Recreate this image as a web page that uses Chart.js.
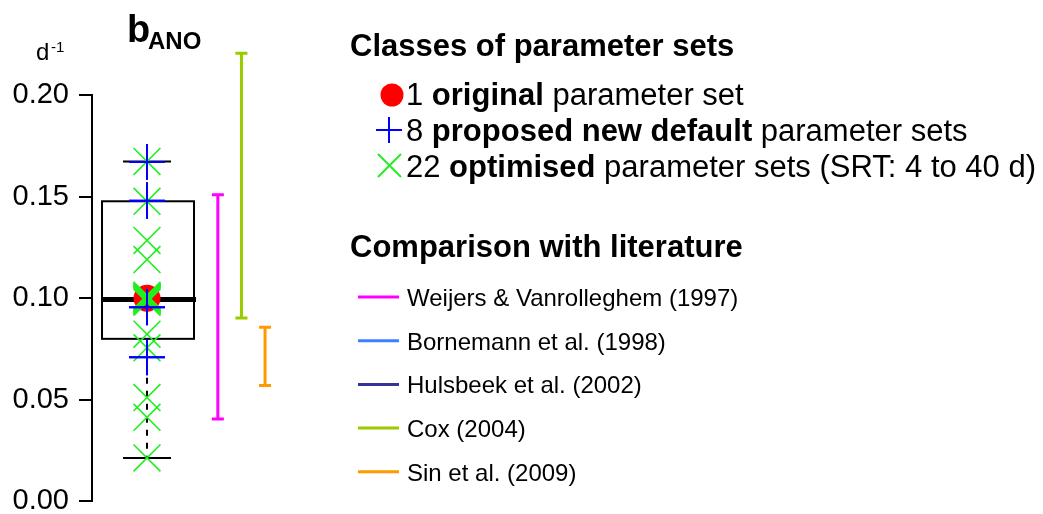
<!DOCTYPE html>
<html><head><meta charset="utf-8">
<script src="https://cdn.jsdelivr.net/npm/chart.js@4.4.1/dist/chart.umd.min.js"></script>
<style>html,body{margin:0;padding:0;background:#fff;overflow:hidden;}#wrap{width:1043px;height:514px;position:relative;overflow:hidden;}</style>
</head><body><div id="wrap"><canvas id="c" width="1043" height="522"></canvas></div>
<script>
// ---- data ----
const yTicks = [0.00, 0.05, 0.10, 0.15, 0.20];
const originalSet = [0.100];
const proposedSets = [0.167, 0.167, 0.148, 0.148, 0.0956, 0.0956, 0.071, 0.071];
const optimisedSets = [0.1673, 0.1477, 0.1284, 0.119,
  0.098, 0.0985, 0.099, 0.099, 0.0995, 0.0995, 0.100, 0.100, 0.100, 0.1005, 0.1005, 0.101, 0.1015,
  0.0823, 0.0756, 0.0511, 0.0414, 0.0214];
const boxStats = [0.0214, 0.080, 0.0994, 0.1477, 0.1673]; // min, q1, median, q3, max
const literatureNames = ['Weijers & Vanrolleghem (1997)', 'Bornemann et al. (1998)', 'Hulsbeek et al. (2002)', 'Cox (2004)', 'Sin et al. (2009)'];
const literatureLow  = [0.0406, null, null, 0.0903, 0.0570];
const literatureHigh = [0.1509, null, null, 0.2206, 0.0857];
const literatureColors = ['#ff00ff', '#3f7fff', '#333399', '#99cc00', '#ff9900'];
const classCounts = ['1', '8', '22'];
const classBold = ['original', 'proposed new default', 'optimised'];
const classRest = ['parameter set', 'parameter sets', 'parameter sets (SRT: 4 to 40 d)'];

const FONT = "'Liberation Sans', Arial, Helvetica, sans-serif";
const GREEN = '#22ee22', BLUE = '#0000ff', RED = '#ff0000';

const pts = arr => arr.map(v => ({x: 0, y: v}));

// literature slots (only those with a range get a position)
const litSlots = [];
{ let s = 3; literatureLow.forEach((v, i) => { litSlots.push(v == null ? null : s++); }); }

const boxPlugin = {
  id: 'box',
  beforeDatasetsDraw(chart) {
    const ctx = chart.ctx, xs = chart.scales.x, ys = chart.scales.y;
    const cx = xs.getPixelForValue(0);
    const [mn, q1, md, q3, mx] = boxStats.map(v => ys.getPixelForValue(v));
    ctx.save();
    ctx.strokeStyle = '#000';
    ctx.lineWidth = 2;
    ctx.setLineDash([6, 7]);
    ctx.beginPath();
    ctx.moveTo(cx, q3); ctx.lineTo(cx, mx);
    ctx.moveTo(cx, q1); ctx.lineTo(cx, mn);
    ctx.stroke();
    ctx.setLineDash([]);
    ctx.beginPath();
    ctx.moveTo(cx - 24, mx); ctx.lineTo(cx + 24, mx);
    ctx.moveTo(cx - 24, mn); ctx.lineTo(cx + 24, mn);
    ctx.stroke();
    ctx.strokeRect(cx - 45, q3, 92, q1 - q3);
    ctx.lineWidth = 5;
    ctx.beginPath();
    ctx.moveTo(cx - 45, md); ctx.lineTo(cx + 49, md);
    ctx.stroke();
    ctx.restore();
  },
  afterDatasetsDraw(chart) {
    const ctx = chart.ctx, xs = chart.scales.x, ys = chart.scales.y;
    ctx.save();
    ctx.lineWidth = 3;
    literatureLow.forEach((lo, i) => {
      if (lo == null) return;
      const x = xs.getPixelForValue(litSlots[i]);
      const y1 = ys.getPixelForValue(lo), y2 = ys.getPixelForValue(literatureHigh[i]);
      ctx.strokeStyle = literatureColors[i];
      ctx.beginPath();
      ctx.moveTo(x, y1); ctx.lineTo(x, y2);
      ctx.moveTo(x - 6, y1); ctx.lineTo(x + 6, y1);
      ctx.moveTo(x - 6, y2); ctx.lineTo(x + 6, y2);
      ctx.stroke();
    });
    ctx.restore();
  },
  afterDraw(chart) {
    const ctx = chart.ctx;
    ctx.save();
    ctx.fillStyle = '#000';
    ctx.textBaseline = 'alphabetic';
    // title b_ANO
    ctx.font = 'bold 38px ' + FONT;
    ctx.fillText('b', 127, 42);
    ctx.font = 'bold 24px ' + FONT;
    ctx.fillText('ANO', 148, 49);
    // unit d^-1
    ctx.font = '24px ' + FONT;
    ctx.fillText('d', 36, 60);
    ctx.font = '15px ' + FONT;
    ctx.fillText('-1', 51, 52);

    // Classes legend
    const F = 31;
    ctx.font = 'bold ' + F + 'px ' + FONT;
    ctx.fillText('Classes of parameter sets', 350, 56);
    const rows = [105, 141, 177];
    for (let i = 0; i < 3; i++) {
      let x = 406;
      const y = rows[i];
      ctx.font = F + 'px ' + FONT;
      const a = classCounts[i] + ' ';
      ctx.fillText(a, x, y); x += ctx.measureText(a).width;
      ctx.font = 'bold ' + F + 'px ' + FONT;
      ctx.fillText(classBold[i], x, y); x += ctx.measureText(classBold[i]).width;
      ctx.font = F + 'px ' + FONT;
      ctx.fillText(' ' + classRest[i], x, y);
    }
    // markers
    ctx.fillStyle = RED;
    ctx.beginPath(); ctx.arc(392, 95, 11.5, 0, Math.PI * 2); ctx.fill();
    ctx.lineWidth = 2;
    ctx.strokeStyle = BLUE;
    ctx.beginPath();
    ctx.moveTo(376, 130); ctx.lineTo(402, 130);
    ctx.moveTo(389, 117); ctx.lineTo(389, 143);
    ctx.stroke();
    ctx.strokeStyle = GREEN;
    ctx.beginPath();
    ctx.moveTo(378, 154); ctx.lineTo(401, 177);
    ctx.moveTo(401, 154); ctx.lineTo(378, 177);
    ctx.stroke();

    // Literature legend
    ctx.fillStyle = '#000';
    ctx.font = 'bold ' + F + 'px ' + FONT;
    ctx.fillText('Comparison with literature', 350, 257);
    ctx.font = '24px ' + FONT;
    literatureNames.forEach((n, i) => {
      const y = 297 + i * 43.7;
      ctx.strokeStyle = literatureColors[i];
      ctx.lineWidth = 3;
      ctx.beginPath(); ctx.moveTo(358, y); ctx.lineTo(399, y); ctx.stroke();
      ctx.fillStyle = '#000';
      ctx.fillText(n, 407, y + 9);
    });
    ctx.restore();
  }
};

new Chart(document.getElementById('c'), {
  type: 'scatter',
  data: {
    datasets: [
      { label: 'proposed', data: pts(proposedSets), pointStyle: 'cross', radius: 18, borderColor: BLUE, borderWidth: 2, backgroundColor: BLUE, clip: false },
      { label: 'optimised', data: pts(optimisedSets), pointStyle: 'crossRot', radius: 19, borderColor: GREEN, borderWidth: 1.6, backgroundColor: GREEN, clip: false },
      { label: 'original', data: pts(originalSet), pointStyle: 'circle', radius: 13.5, borderWidth: 0, backgroundColor: RED, borderColor: RED, clip: false }
    ]
  },
  options: {
    responsive: false,
    animation: false,
    events: [],
    layout: { padding: { left: 0, right: 743, top: 95, bottom: 4 } },
    plugins: { legend: { display: false }, tooltip: { enabled: false }, title: { display: false } },
    scales: {
      x: { type: 'linear', display: false, min: -2.33, max: 6.48,
           afterFit: s => { s.height = 0; s.paddingLeft = 0; s.paddingRight = 0; } },
      y: {
        min: 0, max: 0.2,
        afterBuildTicks: s => { s.ticks = yTicks.map(v => ({ value: v })); },
        afterFit: s => { s.width = 92; s.paddingTop = 0; s.paddingBottom = 0; },
        ticks: { color: '#000', padding: 10, font: { family: FONT, size: 29 }, callback: v => Number(v).toFixed(2) },
        grid: { drawOnChartArea: false, drawTicks: true, tickLength: 13, color: '#000', lineWidth: 2 },
        border: { display: true, color: '#000', width: 2 }
      }
    }
  },
  plugins: [boxPlugin]
});
</script>
</body></html>
